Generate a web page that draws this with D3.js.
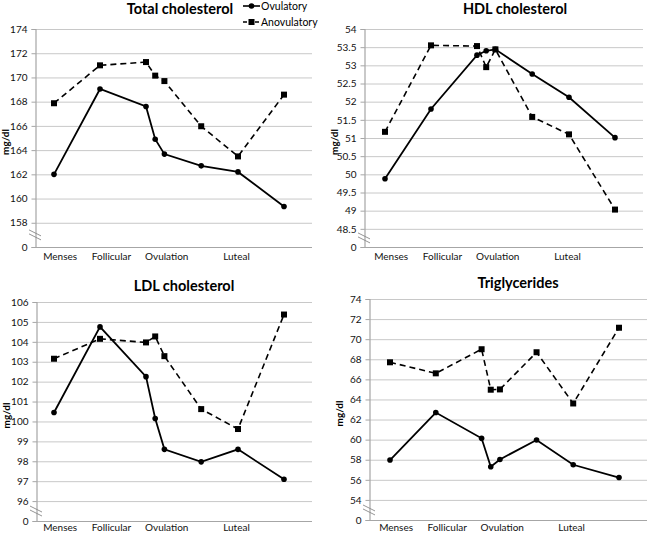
<!DOCTYPE html>
<html>
<head>
<meta charset="utf-8">
<script src="https://cdn.jsdelivr.net/npm/d3@7/dist/d3.min.js"></script>
<style>
  html, body { margin: 0; padding: 0; background: #fff; }
  svg { display: block; font-family: Lato, "Open Sans", "Liberation Sans", sans-serif; }
</style>
</head>
<body>
<svg id="chart" width="648" height="533"></svg>
<script>
// ---- Data ----
const phases = ["Menses", "Follicular", "Ovulation", "Luteal"];
const phasePos = [1.4, 4.75, 8.35, 12.9];
const visitX = [1, 4.0, 7.0, 7.6, 8.2, 10.6, 13.0, 16.0];
const seriesNames = ["Ovulatory", "Anovulatory"];

const titles = ["Total cholesterol", "HDL cholesterol", "LDL cholesterol", "Triglycerides"];

const totalTicks = [158, 160, 162, 164, 166, 168, 170, 172, 174];
const totalOv = [162.0, 169.05, 167.6, 164.9, 163.67, 162.7, 162.2, 159.35];
const totalAn = [167.87, 171.0, 171.27, 170.15, 169.7, 165.97, 163.48, 168.58];

const hdlTicks = [48.5, 49, 49.5, 50, 50.5, 51, 51.5, 52, 52.5, 53, 53.5, 54];
const hdlOv = [49.88, 51.8, 53.28, 53.4, 53.44, 52.76, 52.12, 51.01];
const hdlAn = [51.17, 53.55, 53.53, 52.95, 53.44, 51.58, 51.1, 49.03];

const ldlTicks = [96, 97, 98, 99, 100, 101, 102, 103, 104, 105, 106];
const ldlOv = [100.45, 104.75, 102.25, 100.15, 98.6, 97.97, 98.6, 97.1];
const ldlAn = [103.15, 104.15, 103.97, 104.27, 103.28, 100.62, 99.62, 105.37];

const trigTicks = [54, 56, 58, 60, 62, 64, 66, 68, 70, 72, 74];
const trigOv = [57.97, 62.7, 60.13, 57.3, 58.03, 59.97, 57.5, 56.23];
const trigAn = [67.7, 66.6, 69.0, 64.97, 65.0, 68.7, 63.6, 71.14];

const breakLabel = "0";

// ---- Layout (positions only) ----
const panels = [
  { title: titles[0], ticks: totalTicks, ov: totalOv, an: totalAn,
    left: 35, right: 312, top: 29, bottom: 247, x0: 54, x1: 284, titleX: 180, titleY: 14, catY: 260 },
  { title: titles[1], ticks: hdlTicks, ov: hdlOv, an: hdlAn,
    left: 364, right: 643, top: 29, bottom: 247, x0: 385, x1: 615, titleX: 515, titleY: 14, catY: 260 },
  { title: titles[2], ticks: ldlTicks, ov: ldlOv, an: ldlAn,
    left: 36, right: 312, top: 302, bottom: 521, x0: 54, x1: 284, titleX: 184, titleY: 291, catY: 531 },
  { title: titles[3], ticks: trigTicks, ov: trigOv, an: trigAn,
    left: 369, right: 647, top: 299, bottom: 520, x0: 390, x1: 619, titleX: 518, titleY: 288, catY: 531 }
];

const svg = d3.select("#chart");
const gridColor = "#c8c8c8";
const axisColor = "#a6a6a6";

panels.forEach((p) => {
  const g = svg.append("g");
  const step = p.ticks[1] - p.ticks[0];
  const breakVal = p.ticks[0] - step; // position where "0" is shown
  const y = d3.scaleLinear()
    .domain([breakVal, p.ticks[p.ticks.length - 1]])
    .range([p.bottom, p.top]);
  const x = d3.scaleLinear().domain([visitX[0], visitX[visitX.length - 1]]).range([p.x0, p.x1]);

  // gridlines
  g.selectAll(".grid").data(p.ticks).join("line")
    .attr("x1", p.left).attr("x2", p.right)
    .attr("y1", d => y(d) + 0.5).attr("y2", d => y(d) + 0.5)
    .attr("stroke", gridColor).attr("stroke-width", 1);

  // x axis line (at break value)
  g.append("line")
    .attr("x1", p.left).attr("x2", p.right)
    .attr("y1", y(breakVal) + 0.5).attr("y2", y(breakVal) + 0.5)
    .attr("stroke", axisColor).attr("stroke-width", 1);

  // y axis using d3 axis
  const allTicks = [breakVal].concat(p.ticks);
  const yAxis = d3.axisLeft(y).tickValues(allTicks).tickSize(4).tickPadding(4)
    .tickFormat(d => d === breakVal ? breakLabel : d3.format("")(d));
  const ag = g.append("g").attr("transform", `translate(${p.left + 0.5},0)`).call(yAxis);
  ag.select(".domain").attr("stroke", axisColor).attr("stroke-width", 1.2);
  ag.selectAll(".tick line").attr("stroke", axisColor);
  ag.selectAll(".tick text").attr("font-size", 10).attr("fill", "#111")
    .attr("font-family", "Lato, 'Open Sans', sans-serif");

  // break marks
  const by = (y(breakVal) + y(p.ticks[0])) / 2;
  [-2, 2].forEach(off => {
    g.append("line")
      .attr("x1", p.left - 6).attr("y1", by + off - 3)
      .attr("x2", p.left + 6).attr("y2", by + off + 3)
      .attr("stroke", "#888").attr("stroke-width", 0.9);
  });

  // title
  g.append("text")
    .attr("x", p.titleX).attr("y", p.titleY)
    .attr("text-anchor", "middle").attr("font-size", 14.5).attr("font-weight", 700)
    .attr("fill", "#000").text(p.title);

  // y label
  g.append("text")
    .attr("transform", `translate(${p.left - 26},${(p.top + p.bottom) / 2 + 4}) rotate(-90)`)
    .attr("text-anchor", "middle").attr("font-size", 10).attr("font-weight", 700)
    .attr("fill", "#000").text("mg/dl");

  // category labels
  g.selectAll(".cat").data(phases).join("text")
    .attr("x", (d, i) => x(phasePos[i])).attr("y", p.catY)
    .attr("text-anchor", "middle").attr("font-size", 10).attr("fill", "#111")
    .text(d => d);

  const line = d3.line().x((d, i) => x(visitX[i])).y(d => y(d));

  // anovulatory dashed
  g.append("path").datum(p.an).attr("d", line)
    .attr("fill", "none").attr("stroke", "#000").attr("stroke-width", 1.6)
    .attr("stroke-dasharray", "6,4");
  g.selectAll(".sq").data(p.an).join("rect")
    .attr("x", (d, i) => x(visitX[i]) - 3).attr("y", d => y(d) - 3)
    .attr("width", 6).attr("height", 6).attr("fill", "#000");

  // ovulatory solid
  g.append("path").datum(p.ov).attr("d", line)
    .attr("fill", "none").attr("stroke", "#000").attr("stroke-width", 1.8);
  g.selectAll(".dot").data(p.ov).join("circle")
    .attr("cx", (d, i) => x(visitX[i])).attr("cy", d => y(d))
    .attr("r", 2.8).attr("fill", "#000");
});

// legend
const lg = svg.append("g");
seriesNames.forEach((name, i) => {
  const ly = 6 + i * 16;
  lg.append("line").attr("x1", 243).attr("x2", 260).attr("y1", ly).attr("y2", ly)
    .attr("stroke", "#000").attr("stroke-width", 1.6)
    .attr("stroke-dasharray", i === 0 ? null : "4,2");
  if (i === 0) {
    lg.append("circle").attr("cx", 251.5).attr("cy", ly).attr("r", 2.8).attr("fill", "#000");
  } else {
    lg.append("rect").attr("x", 248.5).attr("y", ly - 3).attr("width", 6).attr("height", 6).attr("fill", "#000");
  }
  lg.append("text").attr("x", 261).attr("y", ly + 4).attr("font-size", 10.5)
    .attr("fill", "#000").text(name);
});
</script>
</body>
</html>
